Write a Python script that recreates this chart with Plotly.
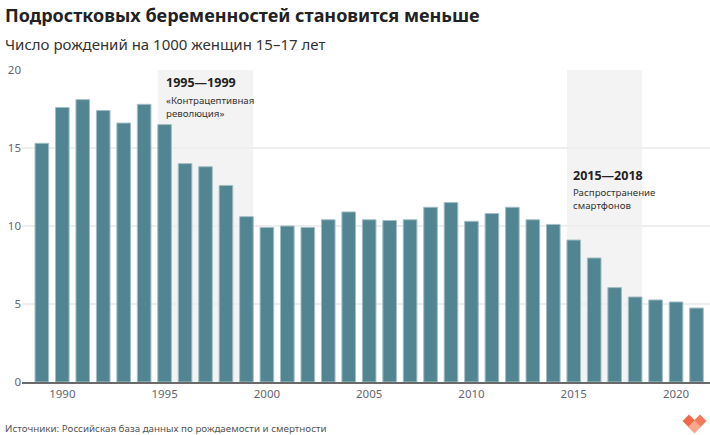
import plotly.graph_objects as go

years = list(range(1989, 2022))
values = [15.3, 17.6, 18.1, 17.4, 16.6, 17.8, 16.5, 14.0, 13.8, 12.6, 10.6,
          9.9, 10.0, 9.9, 10.4, 10.9, 10.4, 10.35, 10.4, 11.2, 11.5,
          10.3, 10.8, 11.2, 10.4, 10.1, 9.1, 7.95, 6.05, 5.45, 5.26, 5.13, 4.74]
periods = [(1995, 1999), (2015, 2018)]
period_titles = ["1995—1999", "2015—2018"]
period_texts = ["«Контрацептивная<br>революция»", "Распространение<br>смартфонов"]
x_ticks = [1990, 1995, 2000, 2005, 2010, 2015, 2020]
y_ticks = [0, 5, 10, 15, 20]

title = "Подростковых беременностей становится меньше"
subtitle = "Число рождений на 1000 женщин 15–17 лет"
source = "Источники: Российская база данных по рождаемости и смертности"

W, H = 710, 435
L, R, T, B = 22, 0, 70, 53
FONT = "Noto Sans"


def px(x):
    return (x - L) / (W - L - R)


def py(y):
    return (H - B - y) / (H - T - B)


BW = 0.665

fig = go.Figure()
fig.add_trace(go.Bar(
    x=years, y=values, width=BW,
    marker=dict(color="#4a818e", line=dict(color="#9fbcc3", width=1)),
    opacity=0.96, hoverinfo="x+y"))

shapes = []
for (a, b) in periods:
    shapes.append(dict(type="rect", xref="x", yref="y", x0=a - BW / 2, x1=b + BW / 2,
                       y0=0, y1=20, fillcolor="#f3f3f3", line=dict(width=0), layer="below"))

# logo (approximate)
def diamond(cx, cy, r, color):
    return dict(type="path", xref="paper", yref="paper",
                path=f"M {px(cx - r)} {py(cy)} L {px(cx)} {py(cy - r)} L {px(cx + r)} {py(cy)} L {px(cx)} {py(cy + r)} Z",
                fillcolor=color, line=dict(width=0), layer="above")

shapes += [diamond(689, 421, 6.5, "#f0684a"), diamond(700, 421, 6.5, "#f27a5c"),
           diamond(694.5, 427, 6.5, "#f6a88f")]

annotations = [
    dict(text=f"<b>{title}</b>", x=px(3), y=py(15), xref="paper", yref="paper",
         xanchor="left", yanchor="middle", showarrow=False,
         font=dict(family=FONT, size=18, color="#222222")),
    dict(text=subtitle, x=px(3), y=py(44), xref="paper", yref="paper",
         xanchor="left", yanchor="middle", showarrow=False,
         font=dict(family=FONT, size=15, color="#333333")),
    dict(text=source, x=px(3), y=py(428), xref="paper", yref="paper",
         xanchor="left", yanchor="middle", showarrow=False,
         font=dict(family=FONT, size=9.8, color="#555555")),
]
ann_pos = [(164, 83, 107), (571, 175, 199)]
for (xp, yt, yb), t1, t2 in zip(ann_pos, period_titles, period_texts):
    annotations.append(dict(text=f"<b>{t1}</b>", x=px(xp), y=py(yt), xref="paper", yref="paper",
                            xanchor="left", yanchor="middle", showarrow=False,
                            font=dict(family=FONT, size=12.5, color="#222222")))
    annotations.append(dict(text=t2, x=px(xp), y=py(yb), xref="paper", yref="paper",
                            xanchor="left", yanchor="middle", showarrow=False, align="left",
                            font=dict(family=FONT, size=9.7, color="#333333")))

fig.update_layout(
    width=W, height=H, margin=dict(l=L, r=R, t=T, b=B),
    paper_bgcolor="white", plot_bgcolor="white",
    showlegend=False, shapes=shapes, annotations=annotations,
    font=dict(family=FONT, color="#666670"),
    xaxis=dict(range=[1988.03, 2021.66], tickvals=x_ticks, ticks="", showgrid=False,
               showline=True, linecolor="#6a6a6a", linewidth=2,
               tickfont=dict(size=11.5, color="#666670"), fixedrange=True),
    yaxis=dict(range=[0, 20], tickvals=y_ticks, ticks="", showgrid=True,
               gridcolor="#eeeeee", gridwidth=2, zeroline=False,
               tickfont=dict(size=11.5, color="#666670"), fixedrange=True),
)

fig.write_html("out.html")
